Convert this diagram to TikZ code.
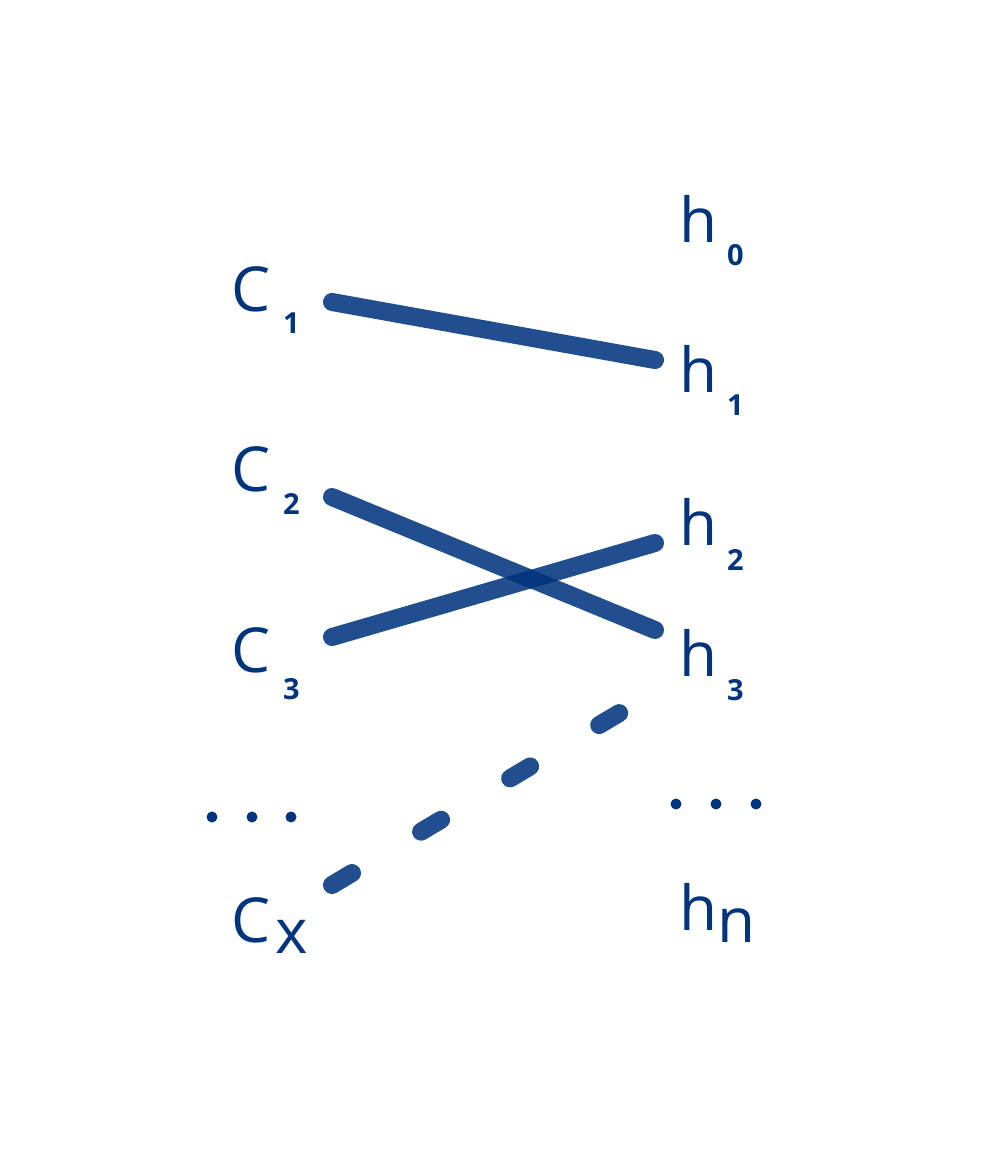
\documentclass[tikz,border=0pt]{standalone}
\usepackage{fontspec}
\setmainfont{Open Sans}
\definecolor{navy}{HTML}{00347D}
\tikzset{
  lbl/.style={anchor=base west,inner sep=0pt,outer sep=0pt,text=navy,font=\fontsize{62pt}{62pt}\selectfont},
  link/.style={draw=navy,draw opacity=0.87,line width=18pt,line cap=round},
  dlink/.style={link,dash pattern=on 23.3pt off 80.5pt},
  dotmark/.style={circle,fill=navy,inner sep=0pt,minimum size=11pt}
}
\newcommand{\subdig}[2]{\raisebox{#1}{\fontsize{29pt}{29pt}\selectfont\bfseries #2}}
\begin{document}
\begin{tikzpicture}[x=1pt,y=-1pt]
\useasboundingbox (0,0) rectangle (987,1174);
% left labels
\node[lbl] (c1) at (231,311) {C\kern13pt\subdig{-22pt}{1}};
\node[lbl] (c2) at (231,491) {C\kern13pt\subdig{-23pt}{2}};
\node[lbl] (c3) at (231,672) {C\kern13pt\subdig{-27pt}{3}};
\node[lbl] (cx) at (231,942) {C\kern5pt\raisebox{-11pt}{x}};
% right labels
\node[lbl] (h0) at (679,243) {h\kern10pt\subdig{-23pt}{0}};
\node[lbl] (h1) at (679,392) {h\kern10pt\subdig{-23pt}{1}};
\node[lbl] (h2) at (679,545) {h\kern10pt\subdig{-25pt}{2}};
\node[lbl] (h3) at (679,676) {h\kern10pt\subdig{-24pt}{3}};
\node[lbl] (hn) at (679,930) {h\kern0pt\raisebox{-12pt}{n}};
% dots
\foreach \i/\x in {1/212,2/252,3/291} \node[dotmark] (ld\i) at (\x,817) {};
\foreach \i/\x in {1/676,2/716,3/756} \node[dotmark] (rd\i) at (\x,804) {};
% connector ends
\coordinate (c1e) at (332,302);
\coordinate (h1e) at (655,360);
\coordinate (c2e) at (332,497);
\coordinate (h3e) at (655,630);
\coordinate (c3e) at (332,637);
\coordinate (h2e) at (655,543);
\coordinate (cxe) at (332,885);
\coordinate (h3f) at (621,712);
\draw[link] (c1e) -- (h1e);
\draw[link] (c2e) -- (h3e);
\draw[link] (c3e) -- (h2e);
\draw[dlink] (cxe) -- (h3f);
\end{tikzpicture}
\end{document}
